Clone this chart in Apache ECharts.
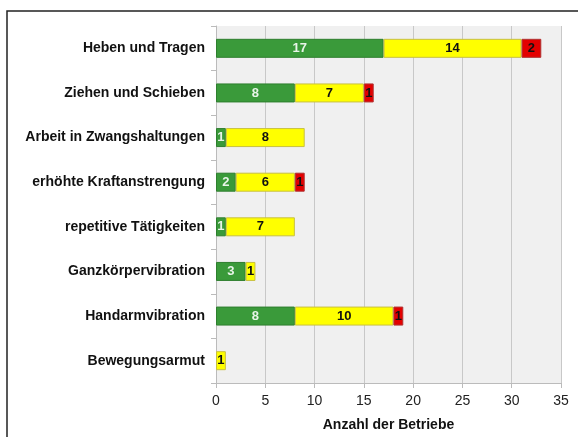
<!DOCTYPE html>
<html>
<head>
<meta charset="utf-8">
<script src="https://cdn.jsdelivr.net/npm/echarts@6/dist/echarts.min.js"></script>
<style>
  html, body { margin: 0; padding: 0; background: #fff; }
  #chart { width: 578px; height: 437px; }
</style>
</head>
<body>
<div id="chart"></div>
<script>
var categories = ['Heben und Tragen', 'Ziehen und Schieben', 'Arbeit in Zwangshaltungen',
  'erhöhte Kraftanstrengung', 'repetitive Tätigkeiten', 'Ganzkörpervibration',
  'Handarmvibration', 'Bewegungsarmut'];
var greenVals = [17, 8, 1, 2, 1, 3, 8, null];
var yellowVals = [14, 7, 8, 6, 7, 1, 10, 1];
var redVals = [2, 1, null, 1, null, null, 1, null];
var xTicks = [0, 35, 5];

var myChart = echarts.init(document.getElementById('chart'));

function seg(name, data, color, border, labelColor) {
  return {
    name: name,
    type: 'bar',
    stack: 'all',
    data: data,
    barWidth: 19,
    itemStyle: { color: color, borderColor: border, borderWidth: 1 },
    label: {
      show: true,
      position: 'inside',
      color: labelColor,
      fontWeight: 'bold',
      fontSize: 13,
      fontFamily: 'Liberation Sans'
    }
  };
}

var option = {
  animation: false,
  grid: { left: 216, right: 17, top: 26, bottom: 54, show: true, backgroundColor: '#f0f0f0', borderWidth: 0 },
  graphic: [{
    type: 'polyline',
    shape: { points: [[7, 440], [7, 11], [580, 11]] },
    style: { stroke: '#222', lineWidth: 1.5, fill: null }
  }],
  xAxis: {
    type: 'value',
    min: xTicks[0], max: xTicks[1], interval: xTicks[2],
    name: 'Anzahl der Betriebe',
    nameLocation: 'middle',
    nameGap: 35,
    nameTextStyle: { fontWeight: 'bold', fontSize: 14, color: '#111', fontFamily: 'Liberation Sans' },
    axisLine: { show: true, lineStyle: { color: '#bbb' } },
    axisTick: { show: true, length: 5, lineStyle: { color: '#bbb' } },
    axisLabel: { color: '#222', fontSize: 14, margin: 11, fontFamily: 'Liberation Sans' },
    splitLine: { show: true, lineStyle: { color: '#c8c8c8' } }
  },
  yAxis: {
    type: 'category',
    data: categories,
    inverse: true,
    axisLine: { show: true, lineStyle: { color: '#bbb' } },
    axisTick: { show: true, length: 5, lineStyle: { color: '#bbb' } },
    axisLabel: { color: '#111', fontWeight: 'bold', fontSize: 14, margin: 11, fontFamily: 'Liberation Sans' },
    splitLine: { show: false }
  },
  series: [
    seg('grün', greenVals, '#3a9a3a', '#2e7f2e', '#e8f4e8'),
    seg('gelb', yellowVals, '#ffff00', '#c8c040', '#111'),
    seg('rot', redVals, '#e30000', '#b03030', '#111')
  ]
};

myChart.setOption(option);
</script>
</body>
</html>
